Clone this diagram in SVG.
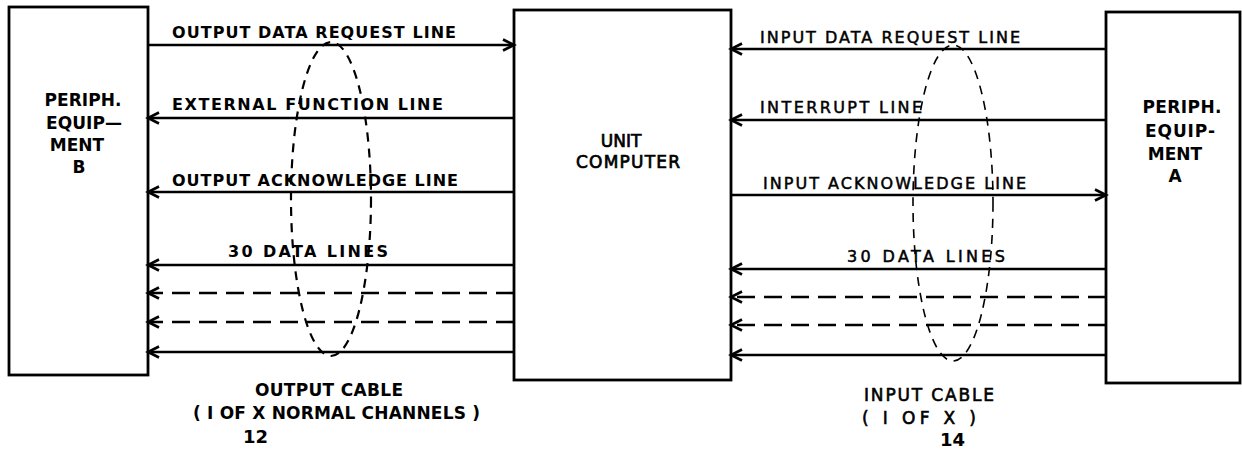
<svg xmlns="http://www.w3.org/2000/svg" width="1242" height="450" viewBox="0 0 1242 450">
<defs>
<marker id="arr" markerUnits="userSpaceOnUse" markerWidth="16" markerHeight="14" refX="13" refY="7" orient="auto">
<path d="M2,1.5 L13,7 L2,12.5" fill="none" stroke="#000" stroke-width="2.6" stroke-linejoin="miter"/>
</marker>
<style>
.box{fill:#fff;stroke:#000;stroke-width:2.8}
.ln{stroke:#000;stroke-width:2.6;fill:none;marker-end:url(#arr)}
.dsh{stroke-dasharray:18 9}
.cab{fill:none;stroke:#000;stroke-dasharray:9 7}
text{font-family:"DejaVu Sans","Liberation Sans",sans-serif;fill:#000}
.lb{font-size:16px;font-weight:bold}
.lr{font-size:16px;font-weight:normal;stroke:#000;stroke-width:0.5}
.bx{font-size:17px;font-weight:bold;text-anchor:middle}
.bn{font-size:17px;font-weight:normal;text-anchor:middle;stroke:#000;stroke-width:0.7}
.cb{font-size:17px;font-weight:bold}
.cn{font-size:17px;font-weight:normal;stroke:#000;stroke-width:0.6}
.hw{font-size:18px;font-weight:bold}
</style>
</defs>
<rect width="1242" height="450" fill="#fff"/>

<g id="periph-b">
<rect class="box" x="9" y="7" width="139" height="368"/>
<text class="bx" x="83" y="106" textLength="77" lengthAdjust="spacing">PERIPH.</text>
<text class="bx" x="84" y="129" textLength="76" lengthAdjust="spacing">EQUIP—</text>
<text class="bx" x="77" y="151">MENT</text>
<text class="bx" x="79" y="173">B</text>
</g>

<g id="unit-computer">
<rect class="box" x="514" y="10" width="217" height="370"/>
<text class="bn" x="621" y="147">UNIT</text>
<text class="bn" x="628" y="168" textLength="104" lengthAdjust="spacing">COMPUTER</text>
</g>

<g id="periph-a">
<rect class="box" x="1106" y="12" width="134" height="371"/>
<text class="bx" x="1182" y="113" textLength="79" lengthAdjust="spacing">PERIPH.</text>
<text class="bx" x="1180" y="137" textLength="70" lengthAdjust="spacing">EQUIP-</text>
<text class="bx" x="1175" y="160">MENT</text>
<text class="bx" x="1175" y="182">A</text>
</g>

<g id="connectors">
<line class="ln" x1="148" y1="45" x2="514" y2="45"/>
<line class="ln" x1="514" y1="118" x2="148" y2="118"/>
<line class="ln" x1="514" y1="192" x2="148" y2="192"/>
<line class="ln" x1="514" y1="265" x2="148" y2="265"/>
<line class="ln dsh" x1="514" y1="293" x2="148" y2="293"/>
<line class="ln dsh" x1="514" y1="322" x2="148" y2="322"/>
<line class="ln" x1="514" y1="352" x2="148" y2="352"/>

<line class="ln" x1="1106" y1="49" x2="731" y2="49"/>
<line class="ln" x1="1106" y1="120" x2="731" y2="120"/>
<line class="ln" x1="731" y1="195" x2="1106" y2="195"/>
<line class="ln" x1="1106" y1="269" x2="731" y2="269"/>
<line class="ln dsh" x1="1106" y1="297" x2="731" y2="297"/>
<line class="ln dsh" x1="1106" y1="325" x2="731" y2="325"/>
<line class="ln" x1="1106" y1="355" x2="731" y2="355"/>
</g>

<g id="output-cable">
<ellipse class="cab" cx="331" cy="199" rx="40" ry="157" stroke-width="2.2"/>
<text class="cb" x="255" y="396" textLength="148" lengthAdjust="spacing">OUTPUT CABLE</text>
<text class="cb" x="193" y="419" textLength="287" lengthAdjust="spacing">( I OF X NORMAL CHANNELS )</text>
<text class="hw" x="243" y="443">12</text>
</g>

<g id="input-cable">
<ellipse class="cab" cx="953" cy="203" rx="40" ry="158" stroke-width="1.6"/>
<text class="cn" x="864" y="401" textLength="130" lengthAdjust="spacing">INPUT CABLE</text>
<text class="cn" x="862" y="424" textLength="114" lengthAdjust="spacing">( I  OF X )</text>
<text class="hw" x="940" y="446">14</text>
</g>

<g id="labels">
<text class="lb" x="172" y="38" textLength="284" lengthAdjust="spacing">OUTPUT DATA REQUEST LINE</text>
<text class="lb" x="172" y="110" textLength="271" lengthAdjust="spacing">EXTERNAL FUNCTION LINE</text>
<text class="lb" x="172" y="186" textLength="286" lengthAdjust="spacing">OUTPUT ACKNOWLEDGE LINE</text>
<text class="lb" x="228" y="257" textLength="160" lengthAdjust="spacing">30 DATA LINES</text>
<text class="lr" x="760" y="43" textLength="260" lengthAdjust="spacing">INPUT DATA REQUEST LINE</text>
<text class="lr" x="760" y="113" textLength="162" lengthAdjust="spacing">INTERRUPT LINE</text>
<text class="lr" x="763" y="189" textLength="263" lengthAdjust="spacing">INPUT ACKNOWLEDGE LINE</text>
<text class="lr" x="847" y="262" textLength="158" lengthAdjust="spacing">30 DATA LINES</text>
</g>
</svg>
